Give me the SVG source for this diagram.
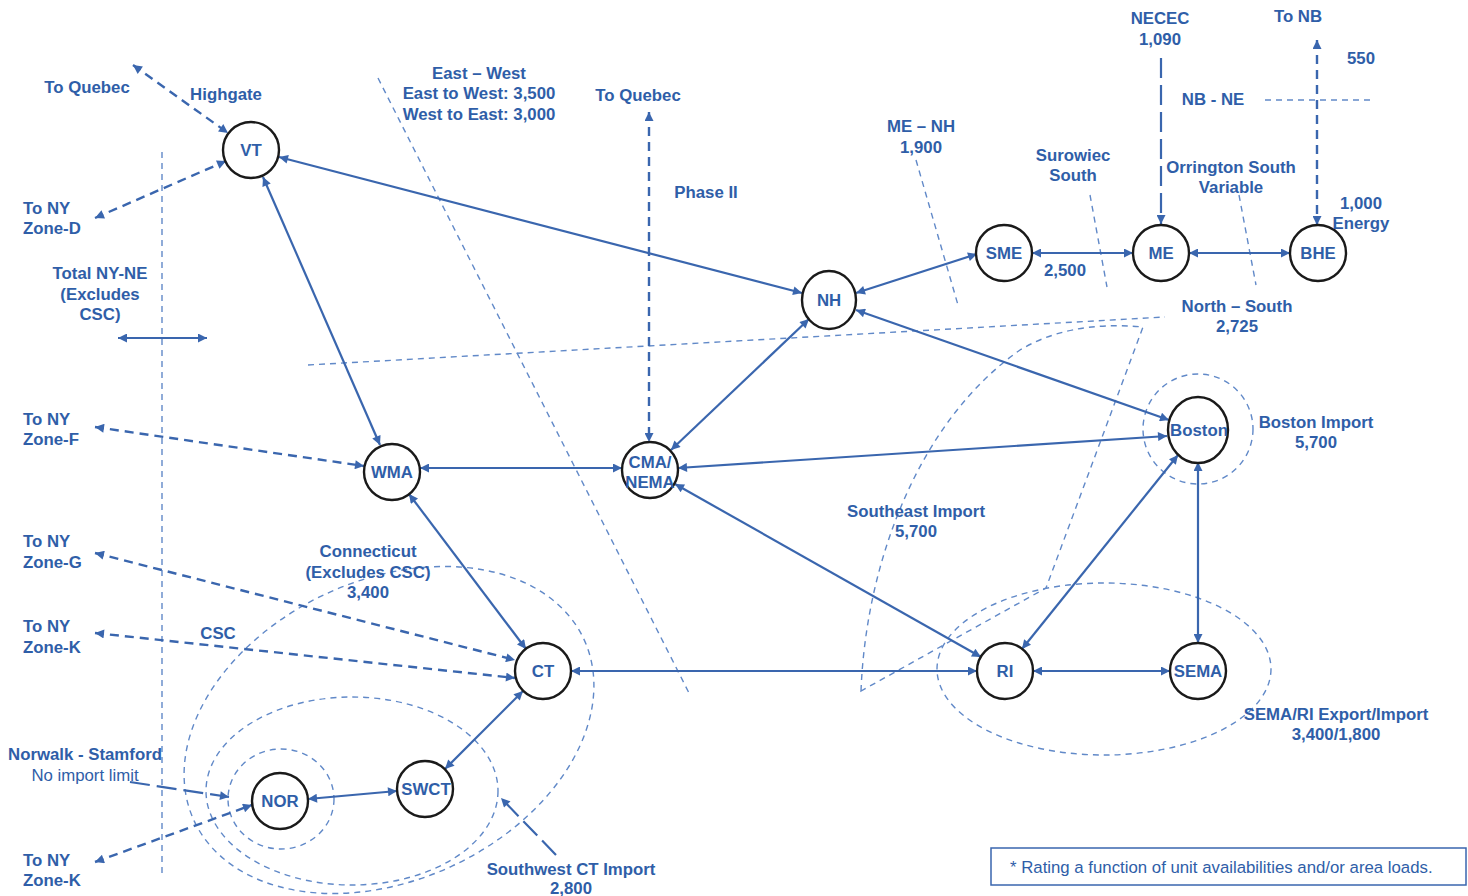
<svg xmlns="http://www.w3.org/2000/svg" width="1468" height="896" viewBox="0 0 1468 896">
<defs>
<style>
.t{font-family:"Liberation Sans",Arial,sans-serif;font-weight:bold;font-size:16.8px;fill:#2f5ea8}
.tm{text-anchor:middle}
.r{font-weight:normal}
.n{font-family:"Liberation Sans",Arial,sans-serif;font-weight:bold;font-size:16.8px;fill:#2f5ea8;text-anchor:middle}
.node{fill:#fff;stroke:#1a1a1a;stroke-width:2.4}
.e{fill:none;stroke:#3a66ae;stroke-width:2.2;marker-start:url(#ah);marker-end:url(#ah)}
.d{fill:none;stroke:#3a66ae;stroke-width:2.4;stroke-dasharray:9 6;marker-start:url(#ah);marker-end:url(#ah)}
.dl{fill:none;stroke:#3a66ae;stroke-width:2.2;stroke-dasharray:20 7;marker-end:url(#ah)}
.b{fill:none;stroke:#6189c8;stroke-width:1.4;stroke-dasharray:6 5}
</style>
<marker id="ah" viewBox="0 0 10 10" refX="10" refY="5" markerWidth="11" markerHeight="9" markerUnits="userSpaceOnUse" orient="auto-start-reverse">
<path d="M0,0 L10,5 L0,10 z" fill="#3a66ae"/>
</marker>
</defs>
<rect width="1468" height="896" fill="#fff"/>

<g id="boundaries">
<line class="b" x1="162" y1="152" x2="162" y2="875"/>
<line class="b" x1="378" y1="78" x2="690" y2="695"/>
<line class="b" x1="308" y1="365" x2="1165" y2="317"/>
<line class="b" x1="916" y1="160" x2="958" y2="305"/>
<line class="b" x1="1090" y1="195" x2="1107" y2="287"/>
<line class="b" x1="1239" y1="195" x2="1256" y2="285"/>
<line class="b" x1="1265" y1="100" x2="1370" y2="100"/>
<path class="b" d="M861,691 C866,560 920,420 1020,350 C1050,332 1090,322 1143,327 L1046,588 Z"/>
<circle class="b" cx="1198" cy="429" r="55"/>
<ellipse class="b" cx="1104" cy="669" rx="167" ry="86"/>
<ellipse class="b" cx="389" cy="730" rx="215" ry="150" transform="rotate(-25 389 730)"/>
<ellipse class="b" cx="352" cy="791" rx="146" ry="94"/>
<ellipse class="b" cx="281" cy="799" rx="53" ry="50"/>
</g>

<g id="connectors">
<line class="e" x1="279" y1="157" x2="802" y2="293"/>
<line class="e" x1="263" y1="177" x2="380" y2="445"/>
<line class="e" x1="856" y1="293" x2="977" y2="254"/>
<line class="e" x1="1032" y1="253" x2="1133" y2="253"/>
<line class="e" x1="1189" y1="253" x2="1290" y2="253"/>
<line class="e" x1="809" y1="319" x2="671" y2="450"/>
<line class="e" x1="856" y1="310" x2="1169" y2="420"/>
<line class="e" x1="420" y1="468" x2="622" y2="468"/>
<line class="e" x1="678" y1="468" x2="1167" y2="436"/>
<line class="e" x1="675" y1="484" x2="981" y2="657"/>
<line class="e" x1="409" y1="494" x2="526" y2="649"/>
<line class="e" x1="571" y1="671" x2="977" y2="671"/>
<line class="e" x1="1022" y1="649" x2="1178" y2="455"/>
<line class="e" x1="1198" y1="462" x2="1198" y2="643"/>
<line class="e" x1="1033" y1="671" x2="1170" y2="671"/>
<line class="e" x1="523" y1="691" x2="445" y2="769"/>
<line class="e" x1="308" y1="799" x2="397" y2="791"/>
<line class="e" x1="118" y1="338" x2="207" y2="338"/>

<line class="d" x1="133" y1="65" x2="228" y2="133"/>
<line class="d" x1="95" y1="218" x2="226" y2="161"/>
<line class="d" x1="649" y1="112" x2="649" y2="442"/>
<line class="d" x1="95" y1="427" x2="364" y2="466"/>
<line class="d" x1="95" y1="553" x2="515" y2="660"/>
<line class="d" x1="95" y1="633" x2="515" y2="678"/>
<line class="d" x1="95" y1="862" x2="252" y2="805"/>
<line class="d" x1="1317" y1="40" x2="1317" y2="225"/>
<line class="dl" x1="130" y1="782" x2="229" y2="797"/>
<line class="dl" x1="1161" y1="58" x2="1161" y2="224"/>
<line class="dl" x1="556" y1="855" x2="501" y2="798"/>
</g>

<g id="n-VT"><circle class="node" cx="251" cy="150" r="28"/><text class="n" x="251" y="156">VT</text></g>
<g id="n-NH"><ellipse class="node" cx="829" cy="300" rx="27" ry="29"/><text class="n" x="829" y="306">NH</text></g>
<g id="n-SME"><circle class="node" cx="1004" cy="253" r="28"/><text class="n" x="1004" y="259">SME</text></g>
<g id="n-ME"><circle class="node" cx="1161" cy="253" r="28"/><text class="n" x="1161" y="259">ME</text></g>
<g id="n-BHE"><circle class="node" cx="1318" cy="253" r="28"/><text class="n" x="1318" y="259">BHE</text></g>
<g id="n-WMA"><circle class="node" cx="392" cy="472" r="28"/><text class="n" x="392" y="478">WMA</text></g>
<g id="n-CMA"><circle class="node" cx="650" cy="470" r="28"/><text class="n" x="650" y="468">CMA/</text><text class="n" x="650" y="488">NEMA</text></g>
<g id="n-Boston"><ellipse class="node" cx="1198" cy="430" rx="30" ry="33"/><text class="n" x="1199" y="436">Boston</text></g>
<g id="n-CT"><circle class="node" cx="543" cy="671" r="28"/><text class="n" x="543" y="677">CT</text></g>
<g id="n-RI"><circle class="node" cx="1005" cy="671" r="28"/><text class="n" x="1005" y="677">RI</text></g>
<g id="n-SEMA"><circle class="node" cx="1198" cy="671" r="28"/><text class="n" x="1198" y="677">SEMA</text></g>
<g id="n-SWCT"><circle class="node" cx="425" cy="789" r="28"/><text class="n" x="426" y="795">SWCT</text></g>
<g id="n-NOR"><circle class="node" cx="280" cy="801" r="28"/><text class="n" x="280" y="807">NOR</text></g>

<g id="labels">
<text class="t tm" x="87" y="93">To Quebec</text>
<text class="t tm" x="226" y="100">Highgate</text>
<text class="t" x="23" y="214">To NY</text>
<text class="t" x="23" y="234">Zone-D</text>
<text class="t tm" x="100" y="279">Total NY-NE</text>
<text class="t tm" x="100" y="300">(Excludes</text>
<text class="t tm" x="100" y="320">CSC)</text>
<text class="t tm" x="479" y="79">East – West</text>
<text class="t tm" x="479" y="99">East to West: 3,500</text>
<text class="t tm" x="479" y="120">West to East: 3,000</text>
<text class="t tm" x="638" y="101">To Quebec</text>
<text class="t tm" x="706" y="198">Phase II</text>
<text class="t tm" x="921" y="132">ME – NH</text>
<text class="t tm" x="921" y="153">1,900</text>
<text class="t tm" x="1073" y="161">Surowiec</text>
<text class="t tm" x="1073" y="181">South</text>
<text class="t tm" x="1160" y="24">NECEC</text>
<text class="t tm" x="1160" y="45">1,090</text>
<text class="t tm" x="1298" y="22">To NB</text>
<text class="t tm" x="1361" y="64">550</text>
<text class="t tm" x="1213" y="105">NB - NE</text>
<text class="t tm" x="1231" y="173">Orrington South</text>
<text class="t tm" x="1231" y="193">Variable</text>
<text class="t tm" x="1361" y="209">1,000</text>
<text class="t tm" x="1361" y="229">Energy</text>
<text class="t tm" x="1065" y="276">2,500</text>
<text class="t tm" x="1237" y="312">North – South</text>
<text class="t tm" x="1237" y="332">2,725</text>
<text class="t" x="23" y="425">To NY</text>
<text class="t" x="23" y="445">Zone-F</text>
<text class="t tm" x="1316" y="428">Boston Import</text>
<text class="t tm" x="1316" y="448">5,700</text>
<text class="t tm" x="916" y="517">Southeast Import</text>
<text class="t tm" x="916" y="537">5,700</text>
<text class="t tm" x="368" y="557">Connecticut</text>
<text class="t tm" x="368" y="578">(Excludes CSC)</text>
<text class="t tm" x="368" y="598">3,400</text>
<text class="t" x="23" y="547">To NY</text>
<text class="t" x="23" y="568">Zone-G</text>
<text class="t" x="23" y="632">To NY</text>
<text class="t" x="23" y="653">Zone-K</text>
<text class="t tm" x="218" y="639">CSC</text>
<text class="t tm" x="1336" y="720">SEMA/RI Export/Import</text>
<text class="t tm" x="1336" y="740">3,400/1,800</text>
<text class="t tm" x="85" y="760">Norwalk - Stamford</text>
<text class="t tm r" x="85" y="781">No import limit</text>
<text class="t" x="23" y="866">To NY</text>
<text class="t" x="23" y="886">Zone-K</text>
<text class="t tm" x="571" y="875">Southwest CT Import</text>
<text class="t tm" x="571" y="894">2,800</text>
</g>

<g id="note">
<rect x="991" y="848" width="475" height="37" fill="#fff" stroke="#3a66ae" stroke-width="1.5"/>
<text class="t r" x="1010" y="873">* Rating a function of unit availabilities and/or area loads.</text>
</g>
</svg>
